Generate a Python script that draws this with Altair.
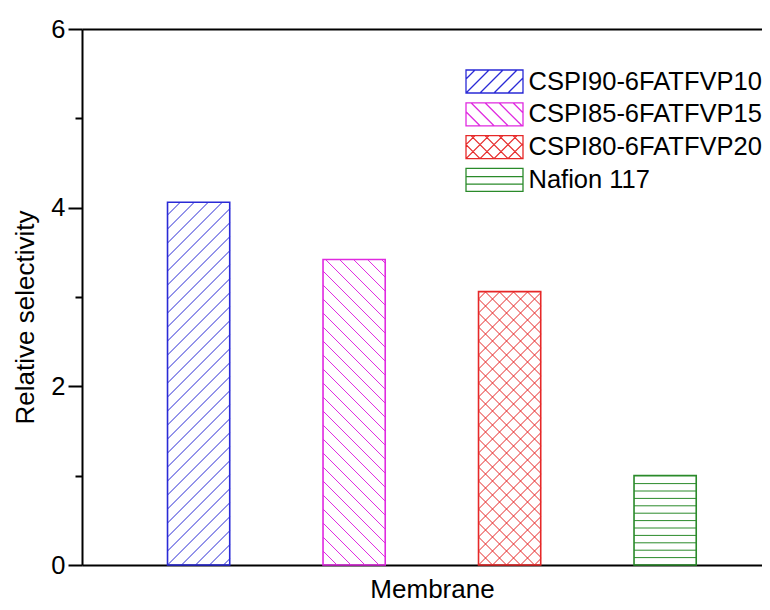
import json
import math
import altair as alt
import pandas as pd

# ---- data ----
membranes = ["CSPI90-6FATFVP10", "CSPI85-6FATFVP15", "CSPI80-6FATFVP20", "Nafion 117"]
selectivity = [4.06, 3.42, 3.06, 1.0]

# ---- styles ----
colors = ["#2a2ad6", "#e02ae0", "#e62828", "#2a8a2a"]
hatches = ["fwd", "back", "cross", "horiz"]
FONT = "Liberation Sans"
LABEL_SIZE = 25.5
TITLE_SIZE = 26

PLOT_W, PLOT_H = 680, 536
X_MIN = 0.25
X_MAX = 0.25 + PLOT_W / 155.5
Y_MIN, Y_MAX = 0, 6
BAR_W = 0.4
SX = PLOT_W / (X_MAX - X_MIN)   # px per x unit
SY = PLOT_H / (Y_MAX - Y_MIN)   # px per y unit
D = 14.0    # diagonal hatch spacing (px)
DH = 7.4    # horizontal hatch spacing (px)

# legend layout (pixels inside the plot area)
LEG_SYM_X = 412.5
LEG_TEXT_X = 446.5
LEG_Y_RANGE = [52.5, 150.9]


def sym_path(kind):
    """Legend symbol: hatched rectangle as a custom SVG path (unit = sqrt(size)/2)."""
    r = 11.5
    a = 57 / 2 / r
    b = 1.0
    d = 14.0 / r
    W, H = 2 * a, 2 * b
    parts = [f"M{-a:.3f},{-b:.3f}L{a:.3f},{-b:.3f}L{a:.3f},{b:.3f}L{-a:.3f},{b:.3f}Z"]

    def seg(u1, t1, u2, t2):
        parts.append(f"M{-a + u1:.3f},{b - t1:.3f}L{-a + u2:.3f},{b - t2:.3f}")

    fams = {"fwd": ["f"], "back": ["b"], "cross": ["f", "b"], "horiz": ["h"]}[kind]
    for fam in fams:
        if fam == "h":
            for t in (H * 0.32, H * 0.64):
                seg(0, t, W, t)
        elif fam == "f":
            for k in range(0, math.ceil(H / d) + math.ceil(W / d) + 2):
                s = (k - math.ceil(H / d)) * d
                u1, u2 = max(0, s), min(W, H + s)
                if u2 - u1 > 0.05:
                    seg(u1, u1 - s, u2, u2 - s)
        else:
            for k in range(1, math.ceil((W + H) / d) + 2):
                s = k * d
                u1, u2 = max(0, s - H), min(W, s)
                if u2 - u1 > 0.05:
                    seg(u1, s - u1, u2, s - u2)
    return " ".join(parts)


sym_paths = [sym_path(h) for h in hatches]

df = pd.DataFrame({"membrane": membranes, "value": selectivity})

xscale = alt.Scale(domain=[X_MIN, X_MAX], nice=False, zero=False)
yscale = alt.Scale(domain=[Y_MIN, Y_MAX], nice=False)
cscale = alt.Scale(domain=membranes, range=colors)

base = alt.Chart(df).transform_window(idx="row_number()").transform_calculate(
    x0=f"datum.idx - {BAR_W / 2}",
    x1=f"datum.idx + {BAR_W / 2}",
)

# hatch lines, generated from the bar values inside Vega-Lite
hatch = base.transform_calculate(
    W=f"{BAR_W * SX}",
    H=f"datum.value * {SY}",
    kind=f"{json.dumps(hatches)}[datum.idx - 1]",
).transform_calculate(
    fam="datum.kind == 'cross' ? ['f', 'b'] : datum.kind == 'fwd' ? ['f'] : datum.kind == 'back' ? ['b'] : ['h']"
).transform_flatten(["fam"]).transform_calculate(
    n=f"datum.fam == 'h' ? ceil(datum.H / {DH}) + 1 : ceil(datum.H / {D}) + ceil(datum.W / {D}) + 2"
).transform_calculate(
    k="sequence(0, datum.n)"
).transform_flatten(["k"]).transform_calculate(
    s=f"datum.fam == 'f' ? (datum.k - ceil(datum.H / {D})) * {D} : datum.fam == 'b' ? datum.k * {D} : (datum.k + 1) * {DH}",
).transform_calculate(
    u1="datum.fam == 'f' ? max(0, datum.s) : datum.fam == 'b' ? max(0, datum.s - datum.H) : 0",
    u2="datum.fam == 'f' ? min(datum.W, datum.H + datum.s) : datum.fam == 'b' ? min(datum.W, datum.s) : datum.W",
).transform_calculate(
    t1="datum.fam == 'f' ? datum.u1 - datum.s : datum.fam == 'b' ? datum.s - datum.u1 : datum.s",
    t2="datum.fam == 'f' ? datum.u2 - datum.s : datum.fam == 'b' ? datum.s - datum.u2 : datum.s",
).transform_filter(
    "datum.u2 - datum.u1 > 0.5 && (datum.fam != 'h' || datum.s < datum.H - 2)"
).transform_calculate(
    xa=f"datum.x0 + datum.u1 / {SX}",
    xb=f"datum.x0 + datum.u2 / {SX}",
    ya=f"datum.t1 / {SY}",
    yb=f"datum.t2 / {SY}",
).mark_rule(strokeWidth=1.0).encode(
    x=alt.X("xa:Q", scale=xscale,
            axis=alt.Axis(orient="top", domain=True, domainColor="black", domainWidth=2,
                          ticks=False, labels=False, grid=False, title=None)),
    x2="xb:Q",
    y=alt.Y("ya:Q", scale=yscale,
            axis=alt.Axis(orient="left", values=[1, 3, 5], tickSize=7, tickWidth=2,
                          tickColor="black", labels=False, domain=False, grid=False,
                          title=None)),
    y2="yb:Q",
    color=alt.Color("membrane:N", scale=cscale, legend=None),
)

bars = base.mark_rect(filled=False, strokeWidth=1.6).encode(
    x=alt.X("x0:Q", scale=xscale,
            axis=alt.Axis(orient="bottom", domain=True, domainColor="black", domainWidth=2,
                          ticks=False, labels=False, grid=False,
                          title="Membrane", titleFont=FONT, titleFontSize=TITLE_SIZE,
                          titleFontWeight="normal", titleColor="black",
                          titleX=350, titleY=32, titleAlign="center",
                          titleBaseline="alphabetic")),
    x2="x1:Q",
    y=alt.Y("value:Q", scale=yscale,
            axis=alt.Axis(orient="left", values=[0, 2, 4, 6], tickSize=14, tickWidth=2,
                          tickColor="black", domain=True, domainColor="black",
                          domainWidth=2, labelFont=FONT, labelFontSize=LABEL_SIZE,
                          labelColor="black", labelPadding=3, grid=False,
                          title="Relative selectivity", titleFont=FONT,
                          titleFontSize=TITLE_SIZE, titleFontWeight="normal",
                          titleColor="black", titleAngle=270, titleX=-49, titleY=288,
                          titleAlign="center", titleBaseline="alphabetic")),
    y2=alt.datum(0),
    color=alt.Color("membrane:N", scale=cscale, legend=None),
)

# legend drawn as marks: hatched key symbols + labels
leg_y = alt.Y("membrane:N",
              scale=alt.Scale(type="point", domain=membranes, range=LEG_Y_RANGE, padding=0),
              axis=None)

leg_sym = alt.Chart(df).mark_point(filled=False, size=529, strokeWidth=1.3, opacity=1).encode(
    x=alt.value(LEG_SYM_X),
    y=leg_y,
    shape=alt.Shape("membrane:N", scale=alt.Scale(domain=membranes, range=sym_paths),
                    legend=None),
    stroke=alt.Stroke("membrane:N", scale=cscale, legend=None),
)

leg_txt = alt.Chart(df).mark_text(
    align="left", baseline="middle", font=FONT, fontSize=LABEL_SIZE, color="black"
).encode(
    x=alt.value(LEG_TEXT_X),
    y=leg_y,
    text="membrane:N",
)

chart = alt.layer(hatch, bars, leg_sym, leg_txt).resolve_scale(
    x="shared", y="independent"
).resolve_axis(
    x="independent", y="independent"
).properties(
    width=PLOT_W, height=PLOT_H,
    padding={"left": 74, "top": 21, "right": 0, "bottom": 37},
    autosize=alt.AutoSizeParams(type="none"),
    background="white",
).configure_view(stroke=None).configure(font=FONT)

chart.save("out.html", embed_options={"renderer": "svg", "actions": False})
